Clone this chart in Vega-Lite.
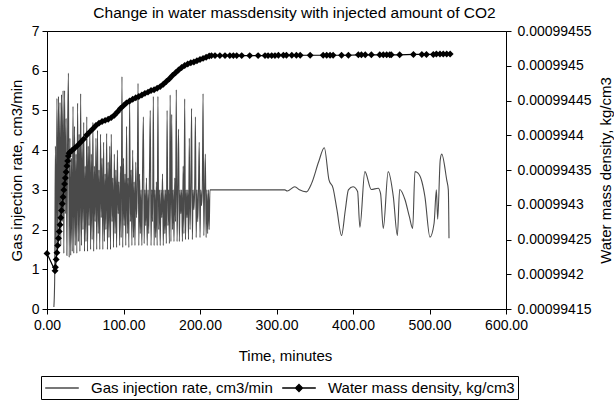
{
"$schema": "https://vega.github.io/schema/vega-lite/v6.json",
"width": 459, "height": 278,
"autosize": "none",
"padding": {"left": 47, "top": 31, "right": 108, "bottom": 92},
"background": "white",
"config": {
  "font": "Liberation Sans",
  "view": {"stroke": "black", "strokeWidth": 1},
  "axis": {"grid": false, "domainColor": "black", "tickColor": "black", "labelColor": "black", "titleColor": "black", "labelFontSize": 14, "titleFontSize": 15, "titleFontWeight": "normal", "labelFont": "Liberation Sans", "titleFont": "Liberation Sans"}
},
"title": {"text": "Change in water massdensity with injected amount of CO2", "fontSize": 15.5, "fontWeight": "normal", "font": "Liberation Sans", "color": "black", "anchor": "middle", "dx": 18, "offset": 3},
"datasets": {
"gas": [
{"time":9,"rate":0.05},{"time":10,"rate":0.7},{"time":11,"rate":4.1},{"time":12,"rate":1.3},{"time":13,"rate":5.3},{"time":14,"rate":1.5},{"time":15,"rate":5.35},{"time":16,"rate":2.0},{"time":17,"rate":5.2},{"time":18,"rate":1.6},{"time":19,"rate":5.4},{"time":20,"rate":2.2},{"time":21,"rate":5.5},{"time":22,"rate":1.4},{"time":23,"rate":5.5},{"time":24,"rate":2.4},{"time":25,"rate":4.8},{"time":26,"rate":1.35},{"time":27,"rate":4.5},{"time":28,"rate":5.94},{"time":29,"rate":1.3},{"time":30,"rate":4.3},
{"time":31,"rate":1.35},{"time":32,"rate":3.8},{"time":33,"rate":1.45},{"time":34,"rate":5.1},{"time":35,"rate":1.4},{"time":36,"rate":4.6},{"time":37,"rate":1.6},{"time":38,"rate":3.9},{"time":39,"rate":1.4},{"time":40,"rate":5.18},
{"time":41,"rate":1.7},{"time":42,"rate":4.4},{"time":43,"rate":1.45},{"time":44,"rate":5.42},{"time":45,"rate":1.6},{"time":46,"rate":4.2},{"time":47,"rate":2.0},{"time":48,"rate":4.7},{"time":49,"rate":1.45},{"time":50,"rate":3.6},
{"time":51,"rate":1.7},{"time":52,"rate":4.84},{"time":53,"rate":1.45},{"time":54,"rate":4.1},{"time":55,"rate":2.1},{"time":56,"rate":4.5},{"time":57,"rate":1.5},{"time":58,"rate":3.9},{"time":59,"rate":1.75},{"time":60,"rate":4.7},
{"time":61,"rate":1.45},{"time":62,"rate":3.6},{"time":63,"rate":2.2},{"time":64,"rate":4.3},{"time":65,"rate":1.5},{"time":66,"rate":4.5},{"time":67,"rate":1.9},{"time":68,"rate":3.5},{"time":69,"rate":1.5},{"time":70,"rate":4.4},
{"time":71,"rate":2.3},{"time":72,"rate":3.8},{"time":73,"rate":1.5},{"time":74,"rate":4.2},{"time":75,"rate":1.7},{"time":76,"rate":3.4},{"time":77,"rate":2.0},{"time":78,"rate":4.42},{"time":79,"rate":1.5},{"time":80,"rate":3.7},
{"time":81,"rate":1.8},{"time":82,"rate":4.1},{"time":83,"rate":1.5},{"time":84,"rate":4.4},{"time":85,"rate":2.2},{"time":86,"rate":3.3},{"time":87,"rate":1.55},{"time":88,"rate":3.9},{"time":89,"rate":1.9},{"time":90,"rate":3.5},
{"time":91,"rate":1.55},{"time":92,"rate":4.0},{"time":93,"rate":2.4},{"time":94,"rate":3.2},{"time":95,"rate":1.6},{"time":96,"rate":3.6},{"time":97,"rate":1.8},{"time":98,"rate":5.85},{"time":99,"rate":1.55},{"time":100,"rate":3.8},
{"time":101,"rate":2.1},{"time":102,"rate":3.4},{"time":103,"rate":1.6},{"time":104,"rate":4.6},{"time":105,"rate":1.9},{"time":106,"rate":3.3},{"time":107,"rate":1.55},{"time":108,"rate":5.26},{"time":109,"rate":2.2},{"time":110,"rate":3.5},
{"time":111,"rate":1.6},{"time":112,"rate":4.0},{"time":113,"rate":1.8},{"time":114,"rate":3.2},{"time":115,"rate":1.6},{"time":116,"rate":3.7},{"time":117,"rate":2.3},{"time":118,"rate":3.0},{"time":119,"rate":5.68},{"time":120,"rate":1.6},
{"time":121,"rate":3.4},{"time":122,"rate":1.9},{"time":123,"rate":3.0},{"time":124,"rate":1.6},{"time":125,"rate":3.6},{"time":126,"rate":4.84},{"time":127,"rate":1.65},{"time":128,"rate":3.0},{"time":129,"rate":2.1},{"time":130,"rate":3.3},
{"time":131,"rate":1.6},{"time":132,"rate":3.0},{"time":133,"rate":1.9},{"time":134,"rate":3.5},{"time":135,"rate":5.0},{"time":136,"rate":1.6},{"time":137,"rate":3.0},{"time":138,"rate":2.2},{"time":139,"rate":5.35},{"time":140,"rate":1.6},
{"time":141,"rate":3.0},{"time":142,"rate":1.8},{"time":143,"rate":3.2},{"time":144,"rate":1.6},{"time":145,"rate":5.35},{"time":146,"rate":2.0},{"time":147,"rate":3.0},{"time":148,"rate":1.6},{"time":149,"rate":3.0},{"time":150,"rate":2.3},
{"time":151,"rate":3.4},{"time":152,"rate":1.6},{"time":153,"rate":3.0},{"time":154,"rate":1.9},{"time":155,"rate":3.0},{"time":156,"rate":1.65},{"time":157,"rate":5.0},{"time":158,"rate":2.1},{"time":159,"rate":3.0},{"time":160,"rate":1.65},
{"time":161,"rate":5.39},{"time":162,"rate":1.7},{"time":163,"rate":4.9},{"time":164,"rate":2.0},{"time":165,"rate":3.0},{"time":166,"rate":1.7},{"time":167,"rate":3.3},{"time":168,"rate":2.2},{"time":169,"rate":5.52},{"time":170,"rate":1.7},
{"time":171,"rate":3.0},{"time":172,"rate":4.53},{"time":173,"rate":1.7},{"time":174,"rate":3.0},{"time":175,"rate":2.4},{"time":176,"rate":3.0},{"time":177,"rate":1.7},{"time":178,"rate":3.6},{"time":179,"rate":1.9},{"time":180,"rate":5.29},
{"time":181,"rate":1.75},{"time":182,"rate":3.0},{"time":183,"rate":2.3},{"time":184,"rate":3.0},{"time":185,"rate":1.75},{"time":186,"rate":4.3},{"time":187,"rate":2.0},{"time":188,"rate":3.0},{"time":189,"rate":5.05},{"time":190,"rate":1.75},
{"time":191,"rate":3.0},{"time":192,"rate":2.5},{"time":193,"rate":3.0},{"time":194,"rate":4.84},{"time":195,"rate":1.8},{"time":196,"rate":3.0},{"time":197,"rate":2.2},{"time":198,"rate":3.0},{"time":199,"rate":4.2},{"time":200,"rate":1.8},
{"time":201,"rate":3.0},{"time":202,"rate":2.6},{"time":203,"rate":3.0},{"time":204,"rate":5.42},{"time":205,"rate":1.85},{"time":206,"rate":3.0},{"time":207,"rate":3.9},{"time":208,"rate":1.8},{"time":209,"rate":3.0},{"time":210,"rate":1.9},
{"time":211,"rate":3.0},{"time":212,"rate":2.0},{"time":213,"rate":3.0},{"time":216,"rate":3.0},{"time":250,"rate":3.0},{"time":280,"rate":3.0},{"time":311,"rate":3.0},
{"time":314,"rate":2.97},{"time":324,"rate":3.08},{"time":330,"rate":3.0},{"time":339,"rate":2.95},{"time":346,"rate":3.17},{"time":355,"rate":3.7},{"time":362.5,"rate":4.06},{"time":368.6,"rate":3.25},{"time":374,"rate":3.04},{"time":379,"rate":2.5},{"time":385,"rate":1.85},
{"time":390,"rate":2.5},{"time":394,"rate":3.0},{"time":400,"rate":3.08},{"time":406,"rate":2.96},{"time":409,"rate":2.06},{"time":415.5,"rate":3.46},{"time":424,"rate":3.01},{"time":433,"rate":3.04},{"time":436,"rate":2.91},{"time":439.6,"rate":2.03},
{"time":446,"rate":3.46},{"time":452.7,"rate":2.83},{"time":458,"rate":1.85},{"time":461,"rate":3.01},{"time":468,"rate":2.75},{"time":473.6,"rate":2.33},{"time":478,"rate":2.03},{"time":481,"rate":3.46},{"time":485,"rate":3.42},{"time":490,"rate":3.21},
{"time":494,"rate":2.83},{"time":500.6,"rate":1.81},{"time":506,"rate":2.16},{"time":509,"rate":3.0},{"time":510.7,"rate":2.26},{"time":514,"rate":3.75},{"time":516,"rate":3.9},{"time":522.5,"rate":3.25},{"time":524.6,"rate":3.0},{"time":525.5,"rate":1.78}
],
"dens": [
{"time":0,"density":0.00099423},{"time":10.5,"density":0.0009942049},{"time":11,"density":0.00099421},{"time":12,"density":0.0009942214},{"time":13,"density":0.0009942311},{"time":14,"density":0.0009942414},{"time":15,"density":0.0009942517},{"time":16,"density":0.0009942614},{"time":17,"density":0.0009942711},{"time":18,"density":0.0009942814},{"time":19,"density":0.0009942917},{"time":20,"density":0.0009943014},{"time":21,"density":0.0009943111},{"time":22,"density":0.0009943214},{"time":23,"density":0.00099433},{"time":24,"density":0.0009943386},{"time":25,"density":0.0009943471},{"time":26,"density":0.0009943557},{"time":27,"density":0.0009943631},{"time":28,"density":0.00099437},{"time":29,"density":0.000994374},{"time":30,"density":0.0009943757},
{"time":33,"density":0.0009943786},{"time":36,"density":0.0009943814},{"time":40,"density":0.0009943854},{"time":44,"density":0.00099439},{"time":48,"density":0.0009943946},{"time":52,"density":0.0009944003},{"time":56,"density":0.0009944049},{"time":60,"density":0.0009944094},{"time":64,"density":0.000994414},{"time":68,"density":0.0009944174},{"time":72,"density":0.0009944197},{"time":76,"density":0.0009944214},{"time":80,"density":0.0009944231},{"time":84,"density":0.0009944254},{"time":88,"density":0.0009944289},{"time":92,"density":0.0009944334},{"time":96,"density":0.0009944386},{"time":100,"density":0.0009944426},{"time":104,"density":0.0009944466},{"time":108,"density":0.0009944494},{"time":112,"density":0.0009944517},{"time":116,"density":0.000994454},{"time":120,"density":0.0009944557},{"time":124,"density":0.000994458},{"time":128,"density":0.0009944603},{"time":132,"density":0.000994462},{"time":136,"density":0.0009944643},{"time":140,"density":0.0009944654},{"time":144,"density":0.0009944677},{"time":148,"density":0.00099447},{"time":152,"density":0.0009944734},{"time":156,"density":0.0009944774},{"time":160,"density":0.0009944814},{"time":164,"density":0.000994486},{"time":168,"density":0.00099449},{"time":172,"density":0.000994494},{"time":176,"density":0.0009944974},{"time":180,"density":0.0009945003},{"time":184,"density":0.0009945026},{"time":188,"density":0.0009945043},{"time":192,"density":0.0009945054},{"time":196,"density":0.0009945071},{"time":200,"density":0.0009945089},{"time":204,"density":0.0009945106},{"time":208,"density":0.0009945123},{"time":212,"density":0.000994514},{"time":215,"density":0.0009945146},
{"time":219.6,"density":0.0009945146},{"time":226,"density":0.0009945146},{"time":232.7,"density":0.0009945146},{"time":239,"density":0.0009945146},{"time":243.6,"density":0.0009945146},{"time":248,"density":0.0009945146},{"time":254.5,"density":0.0009945146},{"time":265,"density":0.0009945146},{"time":276,"density":0.0009945146},{"time":285,"density":0.0009945146},{"time":289,"density":0.0009945146},{"time":293.7,"density":0.0009945146},{"time":298,"density":0.0009945146},{"time":302.5,"density":0.0009945151},{"time":309,"density":0.0009945151},{"time":313,"density":0.0009945151},{"time":320,"density":0.0009945151},{"time":326,"density":0.0009945151},{"time":331,"density":0.0009945151},{"time":344,"density":0.0009945151},{"time":361,"density":0.0009945151},{"time":365.6,"density":0.0009945151},{"time":370,"density":0.0009945151},{"time":374,"density":0.0009945151},{"time":385,"density":0.0009945151},{"time":394,"density":0.0009945151},{"time":407,"density":0.0009945157},{"time":411,"density":0.0009945157},{"time":416,"density":0.0009945157},{"time":424,"density":0.0009945157},{"time":435,"density":0.0009945157},{"time":439.6,"density":0.0009945157},{"time":444,"density":0.0009945157},{"time":448,"density":0.0009945157},{"time":450,"density":0.0009945157},{"time":461,"density":0.0009945157},{"time":479,"density":0.0009945163},{"time":490,"density":0.0009945163},{"time":496,"density":0.0009945163},{"time":505,"density":0.0009945163},{"time":509,"density":0.0009945169},{"time":513.7,"density":0.0009945169},{"time":518,"density":0.0009945169},{"time":522.5,"density":0.0009945169},{"time":527,"density":0.0009945169}
]
},
"layer": [
  {
    "data": {"name": "gas"},
    "mark": {"type": "line", "interpolate": "monotone", "strokeWidth": 1.1},
    "encoding": {
      "x": {"field": "time", "type": "quantitative", "scale": {"domain": [0, 600], "nice": false},
            "axis": {"values": [0, 100, 200, 300, 400, 500, 600], "format": ".2f", "title": "Time, minutes", "tickSize": 5, "labelPadding": 4, "labelFlush": false,
                     "titleX": 238, "titleY": 46, "titleAlign": "center", "titleBaseline": "middle"}},
      "y": {"field": "rate", "type": "quantitative", "scale": {"domain": [0, 7], "nice": false},
            "axis": {"values": [0, 1, 2, 3, 4, 5, 6, 7], "format": "d", "title": "Gas injection rate, cm3/min", "tickSize": 5, "labelPadding": 3, "labelFlush": false,
                     "titleAngle": 270, "titleX": -31, "titleY": 139, "titleAlign": "center", "titleBaseline": "middle"}},
      "color": {"datum": "Gas injection rate, cm3/min", "type": "nominal",
        "scale": {"domain": ["Gas injection rate, cm3/min", "Water mass density, kg/cm3"], "range": ["#4a4a4a", "#000000"]},
        "legend": {"orient": "none", "legendX": -6, "legendY": 345, "direction": "horizontal", "title": null,
          "strokeColor": "black", "padding": 3, "symbolSize": 256, "symbolOffset": 9, "symbolStrokeWidth": 1.3,
          "labelFontSize": 15, "labelColor": "black", "labelFont": "Liberation Sans", "labelLimit": 400, "columnPadding": 6, "labelOffset": 20,
          "encode": {"symbols": {"update": {
            "shape": {"signal": "datum.value === 'Water mass density, kg/cm3' ? 'M-2.1,0H2.1M0,-0.44L0.44,0L0,0.44L-0.44,0Z' : 'M-2.1,0H2.1'"},
            "fill": {"signal": "datum.value === 'Water mass density, kg/cm3' ? 'black' : 'transparent'"},
            "stroke": {"scale": "color", "field": "value"}}}}}}
    }
  },
  {
    "data": {"name": "dens"},
    "encoding": {
      "x": {"field": "time", "type": "quantitative"},
      "y": {"field": "density", "type": "quantitative", "scale": {"domain": [0.00099415, 0.00099455], "nice": false, "zero": false},
            "axis": {"orient": "right", "values": [0.00099415, 0.0009942, 0.00099425, 0.0009943, 0.00099435, 0.0009944, 0.00099445, 0.0009945, 0.00099455], "format": "~g", "title": "Water mass density, kg/cm3", "tickSize": 5, "labelPadding": 6, "labelFlush": false,
                     "titleAngle": 270, "titleX": 104, "titleY": 139, "titleAlign": "center", "titleBaseline": "alphabetic"}},
      "color": {"datum": "Water mass density, kg/cm3", "type": "nominal"}
    },
    "layer": [
      {"mark": {"type": "line", "strokeWidth": 1.2}},
      {"mark": {"type": "point", "shape": "diamond", "filled": true, "size": 48, "opacity": 1}}
    ]
  }
],
"resolve": {"scale": {"y": "independent"}}
}
